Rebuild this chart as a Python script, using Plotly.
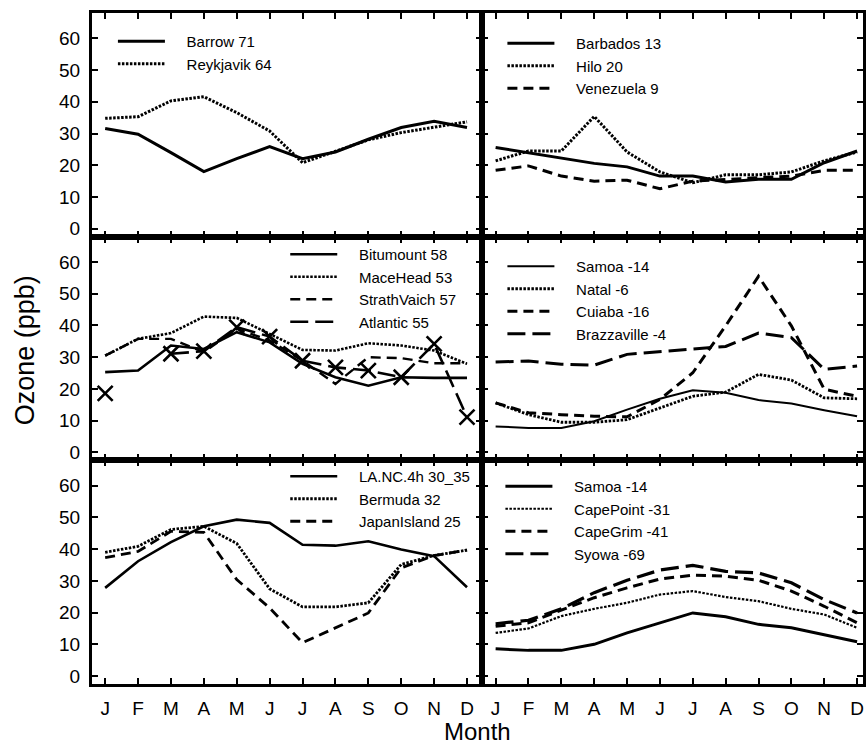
import plotly.graph_objects as go

# ---------------- data ----------------
months = ["J", "F", "M", "A", "M", "J", "J", "A", "S", "O", "N", "D"]
month_idx = list(range(12))

# panel 1 (top left)
barrow = [31.6, 29.8, 24.0, 18.0, 22.1, 25.9, 22.1, 24.2, 28.2, 31.9, 33.9, 31.9]
reykjavik = [34.8, 35.3, 40.3, 41.6, 36.6, 30.8, 20.8, 24.5, 28.0, 30.3, 31.9, 33.7]
# panel 2 (top right)
barbados = [25.6, 24.0, 22.4, 20.6, 19.5, 16.6, 16.6, 14.7, 15.6, 15.6, 20.8, 24.5]
hilo = [21.4, 24.5, 24.5, 35.4, 24.2, 17.9, 14.5, 17.0, 17.0, 17.9, 21.4, 24.2]
venezuela = [18.4, 19.8, 16.6, 15.0, 15.3, 12.6, 15.0, 15.6, 16.1, 16.6, 18.4, 18.4]
# panel 3 (middle left)
bitumount = [25.3, 25.8, 33.7, 32.6, 37.9, 34.7, 27.9, 23.7, 21.0, 23.7, 23.5, 23.5]
macehead = [30.5, 35.8, 37.6, 42.8, 42.4, 37.4, 32.3, 32.1, 34.4, 33.7, 32.1, 27.9]
strathvaich = [30.5, 35.8, 35.8, 31.6, 38.9, 35.3, 28.9, 21.6, 30.0, 29.7, 28.1, 28.1]
atlantic = [18.6, None, 31.1, 31.9, 39.5, 36.5, 28.9, 26.8, 25.8, 23.7, 34.2, 11.1]
# panel 4 (middle right)
samoa_a = [8.2, 7.7, 7.7, 9.8, 13.5, 16.9, 19.6, 18.8, 16.5, 15.4, 13.3, 11.4]
natal = [15.6, 11.9, 9.5, 9.5, 10.3, 14.0, 17.7, 19.0, 24.6, 22.8, 17.2, 16.9]
cuiaba = [15.6, 12.5, 11.9, 11.4, 11.2, 16.7, 25.1, 39.9, 55.5, 39.9, 19.9, 17.7]
brazzaville = [28.5, 28.8, 27.8, 27.5, 30.9, 31.7, 32.5, 33.4, 37.6, 36.2, 26.2, 27.2]
# panel 5 (bottom left)
lanc = [27.8, 36.2, 42.2, 47.2, 49.3, 48.3, 41.4, 41.1, 42.5, 39.9, 37.8, 28.0]
bermuda = [39.0, 40.9, 46.2, 47.2, 41.8, 27.5, 21.8, 21.8, 23.1, 35.2, 38.0, 39.7]
japanisland = [37.3, 39.3, 45.6, 45.3, 30.4, 21.5, 10.5, 15.2, 19.9, 34.1, 38.0, 39.7]
# panel 6 (bottom right)
samoa_b = [8.6, 8.1, 8.1, 10.0, 13.6, 16.8, 19.9, 18.7, 16.3, 15.2, 12.9, 10.8]
capepoint = [13.6, 15.0, 18.9, 21.2, 23.1, 25.7, 26.8, 24.9, 23.6, 21.2, 19.4, 15.2]
capegrim = [15.7, 16.8, 20.8, 24.7, 27.8, 30.6, 31.8, 31.5, 30.2, 26.8, 22.0, 16.8]
syowa = [16.5, 17.6, 21.2, 26.3, 30.2, 33.4, 34.9, 33.0, 32.5, 29.4, 24.1, 19.9]

y_ticks = [0, 10, 20, 30, 40, 50, 60]

# ---------------- styling ----------------
W, H = 867, 746
ML, MR, MT, MB = 92, 1, 13, 62
PW, PH = W - ML - MR, H - MT - MB

def px_x(p):
    return (p - ML) / PW

def px_y(p):
    return 1 - (p - MT) / PH

DASH = {
    "solid": "solid",
    "dot": "2.5px,1.5px",
    "dash": "10px,6px",
    "longdash": "18px,7px",
}

panels = [
    [("Barrow 71", barrow, "solid", 3), ("Reykjavik 64", reykjavik, "dot", 3)],
    [("Barbados 13", barbados, "solid", 3), ("Hilo 20", hilo, "dot", 3),
     ("Venezuela 9", venezuela, "dash", 3)],
    [("Bitumount 58", bitumount, "solid", 2.6), ("MaceHead 53", macehead, "dot", 2.6),
     ("StrathVaich 57", strathvaich, "dash", 2.4), ("Atlantic 55", atlantic, "longdash", 2.6)],
    [("Samoa -14", samoa_a, "solid", 2), ("Natal -6", natal, "dot", 2.8),
     ("Cuiaba -16", cuiaba, "dash", 3), ("Brazzaville -4", brazzaville, "longdash", 3)],
    [("LA.NC.4h 30_35", lanc, "solid", 2.6), ("Bermuda 32", bermuda, "dot", 2.8),
     ("JapanIsland 25", japanisland, "dash", 2.8)],
    [("Samoa -14", samoa_b, "solid", 3), ("CapePoint -31", capepoint, "dot", 2.2),
     ("CapeGrim -41", capegrim, "dash", 3), ("Syowa -69", syowa, "longdash", 3.2)],
]

# legend positions (pixel of first line start, first row centre)
legend_pos = [(119, 42), (510, 44), (292, 255), (510, 267), (292, 477), (508, 487)]
PAD = "\u00a0" * 4

col_split = 392 / PW
x_dom = [[0, col_split], [col_split, 1]]
y_dom = [[2 / 3, 1], [1 / 3, 2 / 3], [0, 1 / 3]]
x_rng = [[-0.4, 11.47], [-0.4, 11.18]]
y_rng = [-2.5, 68]

FONT = "Liberation Sans, Arial, sans-serif"

fig = go.Figure()
layout = {}
for i, series in enumerate(panels):
    r, c = divmod(i, 2)
    n = i + 1
    xa = "x" if n == 1 else f"x{n}"
    ya = "y" if n == 1 else f"y{n}"
    lg = "legend" if n == 1 else f"legend{n}"
    for k, (name, vals, sty, lw) in enumerate(series):
        fig.add_trace(go.Scatter(
            x=month_idx, y=vals, mode="lines", name=PAD + name,
            line=dict(color="black", width=lw, dash=DASH[sty]),
            xaxis=xa, yaxis=ya, legend=lg,
            connectgaps=False, hoverinfo="skip",
        ))
        if name.startswith("Atlantic"):
            fig.add_trace(go.Scatter(
                x=month_idx, y=vals, mode="markers", showlegend=False,
                marker=dict(symbol="x-thin-open", size=15, color="black",
                            line=dict(color="black", width=2.6)),
                xaxis=xa, yaxis=ya, hoverinfo="skip",
            ))
    xkey = "xaxis" if n == 1 else f"xaxis{n}"
    ykey = "yaxis" if n == 1 else f"yaxis{n}"
    layout[xkey] = dict(
        domain=x_dom[c], range=x_rng[c], anchor=ya,
        tickmode="array", tickvals=month_idx, ticktext=months,
        showticklabels=(r == 2), ticks="inside", ticklen=6, tickwidth=2,
        tickcolor="black", showline=True, linecolor="black", linewidth=3,
        mirror="allticks", showgrid=False, zeroline=False,
        tickfont=dict(family=FONT, size=19, color="black"),
        ticklabelstandoff=5,
    )
    layout[ykey] = dict(
        domain=y_dom[r], range=y_rng, anchor=xa,
        tickmode="array", tickvals=y_ticks,
        showticklabels=(c == 0), ticks="inside", ticklen=6, tickwidth=2,
        tickcolor="black", showline=True, linecolor="black", linewidth=3,
        mirror="allticks", showgrid=False, zeroline=False,
        tickfont=dict(family=FONT, size=19, color="black"),
        ticklabelstandoff=5,
    )
    lx, ly = legend_pos[i]
    layout[lg] = dict(
        x=px_x(lx - 6), y=px_y(ly - 17), xanchor="left", yanchor="top",
        bgcolor="rgba(0,0,0,0)", borderwidth=0,
        font=dict(family=FONT, size=15, color="black"),
        itemwidth=47, tracegroupgap=0, traceorder="normal",
    )

fig.update_layout(**layout)
fig.update_layout(
    width=W, height=H,
    margin=dict(l=ML, r=MR, t=MT, b=MB, pad=0),
    paper_bgcolor="white", plot_bgcolor="white",
    showlegend=True,
    annotations=[
        dict(text="Month", xref="paper", yref="paper",
             x=px_x(479), y=px_y(731), xanchor="center", yanchor="middle",
             showarrow=False, font=dict(family=FONT, size=24, color="black")),
        dict(text="Ozone (ppb)", xref="paper", yref="paper",
             x=px_x(25), y=px_y(350), xanchor="center", yanchor="middle",
             textangle=-90, showarrow=False,
             font=dict(family=FONT, size=27, color="black")),
    ],
)

fig.write_html("out.html")
